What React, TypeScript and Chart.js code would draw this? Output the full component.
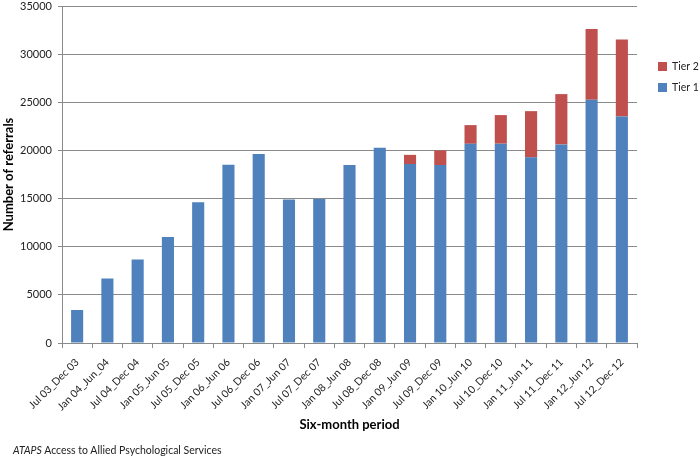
import React, { useEffect, useRef } from "react";
import { Chart, registerables } from "chart.js";

Chart.register(...registerables);

const categories = [
  "Jul 03_Dec 03", "Jan 04_Jun_04", "Jul 04_Dec 04", "Jan 05_Jun 05", "Jul 05_Dec 05",
  "Jan 06_Jun 06", "Jul 06_Dec 06", "Jan 07_Jun 07", "Jul 07_Dec 07", "Jan 08_Jun 08",
  "Jul 08_Dec 08", "Jan 09_Jun 09", "Jul 09_Dec 09", "Jan 10_Jun 10", "Jul 10_Dec 10",
  "Jan 11_Jun 11", "Jul 11_Dec 11", "Jan 12_Jun 12", "Jul 12_Dec 12",
];

const tier1 = [
  3430, 6700, 8670, 11000, 14620, 18500, 19620, 14900, 14950, 18480,
  20280, 18580, 18480, 20690, 20700, 19280, 20620, 25260, 23530,
];

const tier2 = [
  0, 0, 0, 0, 0, 0, 0, 0, 0, 0,
  0, 960, 1520, 1940, 2970, 4800, 5230, 7350, 8000,
];

const seriesNames = ["Tier 1", "Tier 2"];
const seriesColors = ["#4F81BD", "#C0504D"];
const yTicks = { min: 0, max: 35000, step: 5000 };

const FONT = "Lato, 'Open Sans', sans-serif";
const GRID = "#8a8a8a";

const legendPlugin = {
  id: "customLegend",
  afterDraw(chart: any) {
    const ctx = chart.ctx;
    const ds = chart.data.datasets;
    ctx.save();
    ctx.font = `10.5px ${FONT}`;
    ctx.textBaseline = "middle";
    ctx.textAlign = "left";
    const items = [...ds].reverse();
    items.forEach((d: any, i: number) => {
      const cy = 66.5 + i * 21;
      ctx.fillStyle = d.backgroundColor;
      ctx.fillRect(658, cy - 4.5, 9, 9);
      ctx.fillStyle = "#222";
      ctx.fillText(d.label, 672, cy);
    });
    ctx.restore();
  },
};

export default function App() {
  const ref = useRef<HTMLCanvasElement | null>(null);

  useEffect(() => {
    document.body.style.margin = "0";
    const canvas = ref.current;
    if (!canvas) return;
    const chart = new Chart(canvas, {
      type: "bar",
      data: {
        labels: categories,
        datasets: [
          {
            label: seriesNames[0],
            data: tier1,
            backgroundColor: seriesColors[0],
            categoryPercentage: 1,
            barPercentage: 0.4,
          },
          {
            label: seriesNames[1],
            data: tier2,
            backgroundColor: seriesColors[1],
            categoryPercentage: 1,
            barPercentage: 0.4,
          },
        ],
      },
      options: {
        responsive: false,
        animation: false,
        layout: { padding: { top: 6, right: 63, bottom: 23, left: 0 } },
        plugins: {
          legend: { display: false },
          tooltip: { enabled: false },
        },
        scales: {
          x: {
            stacked: true,
            grid: {
              display: true,
              drawOnChartArea: false,
              drawTicks: true,
              tickLength: 5,
              color: GRID,
              offset: true,
            },
            border: { color: GRID },
            ticks: {
              minRotation: 45,
              maxRotation: 45,
              autoSkip: false,
              font: { family: FONT, size: 10.5 },
              color: "#222",
              padding: 8,
            },
            title: {
              display: true,
              text: "Six-month period",
              font: { family: FONT, size: 13, weight: "bold" },
              color: "#000",
              padding: { top: 4, bottom: 2 },
            },
            afterFit: (scale: any) => {
              scale.height = 92;
              scale.paddingTop = 0;
            },
          },
          y: {
            stacked: true,
            min: yTicks.min,
            max: yTicks.max,
            ticks: {
              stepSize: yTicks.step,
              font: { family: FONT, size: 11 },
              color: "#222",
              padding: 6,
              callback: (v: any) => String(v),
            },
            grid: { color: GRID, tickLength: 4, drawTicks: true },
            border: { color: GRID },
            title: {
              display: true,
              text: "Number of referrals",
              font: { family: FONT, size: 13, weight: "bold" },
              color: "#000",
              padding: { top: 1, bottom: 0 },
            },
            afterFit: (scale: any) => {
              scale.width = 62;
              scale.paddingTop = 0;
              scale.paddingBottom = 0;
            },
          },
        },
      },
      plugins: [legendPlugin],
    });
    return () => chart.destroy();
  }, []);

  return (
    <div style={{ position: "relative", width: 700, height: 458 }}>
      <canvas ref={ref} width={700} height={458} style={{ display: "block" }} />
      <div
        style={{
          position: "absolute",
          left: 13,
          top: 443,
          fontFamily: FONT,
          fontSize: 10.5,
          lineHeight: "14px",
          color: "#222",
          whiteSpace: "nowrap",
        }}
      >
        <i>ATAPS</i> Access to Allied Psychological Services
      </div>
    </div>
  );
}
